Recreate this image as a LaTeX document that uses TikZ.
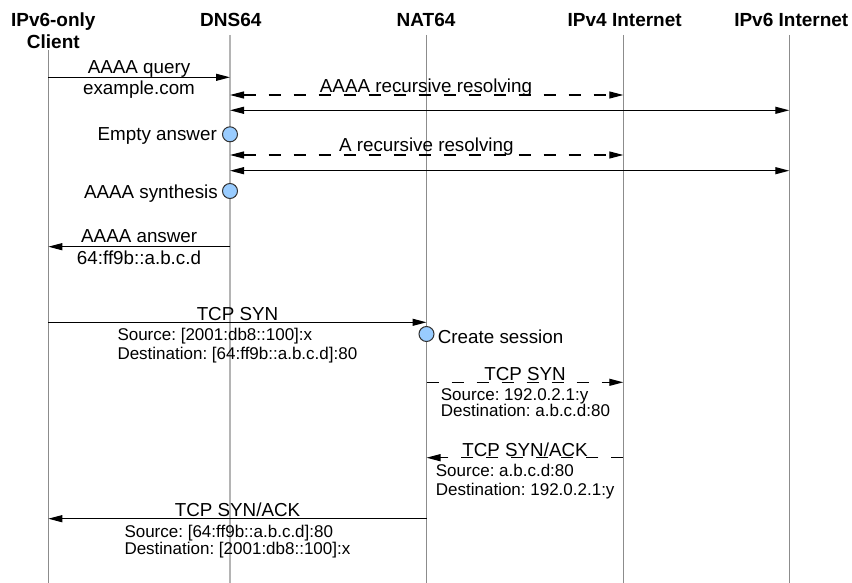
\documentclass[tikz,border=0pt]{standalone}
\usepackage{fontspec}
\setmainfont{Liberation Sans}
\usetikzlibrary{arrows.meta}
\definecolor{circfill}{HTML}{99CCFF}
\definecolor{lifegray}{HTML}{8C8C8C}
\definecolor{dnsgray}{HTML}{B4B4B4}
\frenchspacing
\begin{document}
\begin{tikzpicture}[x=1pt,y=-1pt,
  head/.style={font=\fontsize{19}{22}\selectfont\bfseries, inner sep=0pt, anchor=base},
  lbl/.style={font=\fontsize{18.8}{22}\selectfont, inner sep=0pt, anchor=base},
  lble/.style={font=\fontsize{18.8}{22}\selectfont, inner sep=0pt, anchor=base east},
  lblw/.style={font=\fontsize{18.8}{22}\selectfont, inner sep=0pt, anchor=base west},
  small/.style={font=\fontsize{17}{20}\selectfont, inner sep=0pt, anchor=base west},
  life/.style={draw=lifegray, line width=0.9pt},
  dnslife/.style={draw=dnsgray, line width=2pt},
  msg/.style={draw=black, line width=1.2pt, -{Triangle[length=14pt,width=7pt]}},
  bimsg/.style={draw=black, line width=1.2pt, {Triangle[length=14pt,width=7pt]}-{Triangle[length=14pt,width=7pt]}},
  dmsg/.style={dash pattern=on 12pt off 13pt},
  evt/.style={circle, draw=black!80, fill=circfill, line width=1pt, minimum size=15pt, inner sep=0pt},
]
\useasboundingbox (0,0) rectangle (852,583);
\def\xCl{48.3}\def\xDn{230}\def\xNa{426.5}\def\xVf{623.3}\def\xVs{789.3}
% headers
\node[head] (hCl1) at (53.3,26.7) {IPv6-only};
\node[head] (hCl2) at (53.3,48.3) {Client};
\node[head] (hDn) at (230.8,26.7) {DNS64};
\node[head] (hNa) at (426,26.7) {NAT64};
\node[head] (hV4) at (624.7,26.7) {IPv4 Internet};
\node[head] (hV6) at (791.3,26.7) {IPv6 Internet};
% lifelines
\coordinate (Cl) at (\xCl,50);  \coordinate (ClB) at (\xCl,583);
\coordinate (Dn) at (\xDn,35);  \coordinate (DnB) at (\xDn,583);
\coordinate (Na) at (\xNa,35);  \coordinate (NaB) at (\xNa,583);
\coordinate (Vf) at (\xVf,35);  \coordinate (VfB) at (\xVf,583);
\coordinate (Vs) at (\xVs,35);  \coordinate (VsB) at (\xVs,583);
\draw[life] (Cl) -- (ClB);
\draw[dnslife] (Dn) -- (DnB);
\draw[life] (Na) -- (NaB);
\draw[life] (Vf) -- (VfB);
\draw[life] (Vs) -- (VsB);
% 1 AAAA query
\coordinate (m1a) at (\xCl,77.3); \coordinate (m1b) at (\xDn,77.3);
\draw[msg] (m1a) -- (m1b);
\node[lbl] (l1a) at (139,74) {AAAA query};
\node[lbl] (l1b) at (139,95) {example.com};
% 2 AAAA recursive (dashed)
\coordinate (m2a) at (\xDn,95); \coordinate (m2b) at (\xVf,95);
\draw[bimsg,dmsg] (m2a) -- (m2b);
\node[lbl] (l2) at (426,92.7) {AAAA recursive resolving};
% 3 solid to IPv6
\coordinate (m3a) at (\xDn,110.3); \coordinate (m3b) at (\xVs,110.3);
\draw[bimsg] (m3a) -- (m3b);
% empty answer
\node[evt] (e1) at (\xDn,134.3) {};
\node[lble] (le1) at (217,140.5) {Empty answer};
% 4 A recursive (dashed)
\coordinate (m4a) at (\xDn,155); \coordinate (m4b) at (\xVf,155);
\draw[bimsg,dmsg] (m4a) -- (m4b);
\node[lbl] (l4) at (426.3,152) {A recursive resolving};
% 5 solid
\coordinate (m5a) at (\xDn,170.7); \coordinate (m5b) at (\xVs,170.7);
\draw[bimsg] (m5a) -- (m5b);
% synthesis
\node[evt] (e2) at (\xDn,191) {};
\node[lble] (le2) at (218,199) {AAAA synthesis};
% 6 AAAA answer
\coordinate (m6a) at (\xDn,246.7); \coordinate (m6b) at (\xCl,246.7);
\draw[msg] (m6a) -- (m6b);
\node[lbl] (l6a) at (139.2,242.7) {AAAA answer};
\node[lbl] (l6b) at (139,264) {64:ff9b::a.b.c.d};
% 7 TCP SYN
\coordinate (m7a) at (\xCl,322.3); \coordinate (m7b) at (\xNa,322.3);
\draw[msg] (m7a) -- (m7b);
\node[lbl] (l7) at (237.5,320.7) {TCP SYN};
\node[small] (s7a) at (117.3,340.5) {Source: [2001:db8::100]:x};
\node[small] (s7b) at (117.3,359) {Destination: [64:ff9b::a.b.c.d]:80};
% create session
\node[evt] (e3) at (\xNa,334) {};
\node[lblw] (le3) at (437.7,343.3) {Create session};
% 8 TCP SYN dashed
\coordinate (m8a) at (\xNa,382.3); \coordinate (m8b) at (\xVf,382.3);
\draw[msg,dmsg] (m8a) -- (m8b);
\node[lbl] (l8) at (525,380.7) {TCP SYN};
\node[small] (s8a) at (440.7,400.3) {Source: 192.0.2.1:y};
\node[small] (s8b) at (440.7,416.5) {Destination: a.b.c.d:80};
% 9 TCP SYN/ACK dashed
\coordinate (m9a) at (\xVf,457.7); \coordinate (m9b) at (\xNa,457.7);
\draw[msg,dmsg] (m9a) -- (m9b);
\node[lbl] (l9) at (525,456.7) {TCP SYN/ACK};
\node[small] (s9a) at (435.7,476.5) {Source: a.b.c.d:80};
\node[small] (s9b) at (435.7,495) {Destination: 192.0.2.1:y};
% 10 TCP SYN/ACK
\coordinate (m10a) at (\xNa,518.7); \coordinate (m10b) at (\xCl,518.7);
\draw[msg] (m10a) -- (m10b);
\node[lbl] (l10) at (237.5,516.7) {TCP SYN/ACK};
\node[small] (s10a) at (124.3,537.3) {Source: [64:ff9b::a.b.c.d]:80};
\node[small] (s10b) at (124.3,554) {Destination: [2001:db8::100]:x};
\end{tikzpicture}
\end{document}
